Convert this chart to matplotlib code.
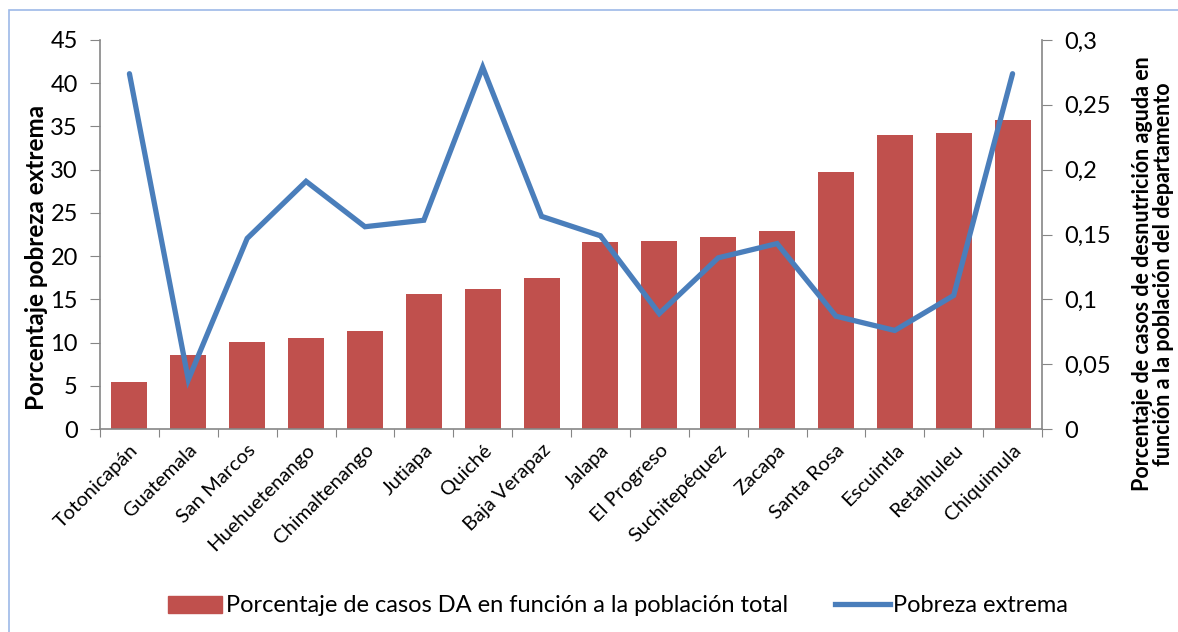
import matplotlib.pyplot as plt
from matplotlib.patches import Rectangle
from matplotlib.lines import Line2D
import numpy as np

plt.rcParams['font.family'] = ['Lato', 'DejaVu Sans']

departamentos = ['Totonicapán', 'Guatemala', 'San Marcos', 'Huehuetenango', 'Chimaltenango',
                 'Jutiapa', 'Quiché', 'Baja Verapaz', 'Jalapa', 'El Progreso', 'Suchitepéquez',
                 'Zacapa', 'Santa Rosa', 'Escuintla', 'Retalhuleu', 'Chiquimula']
casos_da = [5.4, 8.6, 10.1, 10.5, 11.3, 15.6, 16.2, 17.5, 21.6, 21.8, 22.2, 22.9,
            29.7, 34.0, 34.2, 35.8]
pobreza = [0.274, 0.038, 0.147, 0.191, 0.156, 0.161, 0.279, 0.164, 0.149, 0.089,
           0.132, 0.143, 0.087, 0.076, 0.103, 0.274]

fig = plt.figure(figsize=(11.78, 6.32), dpi=100)
ax = fig.add_axes([100/1178, 1-429/632, 942/1178, 389/632])
ax2 = ax.twinx()

x = np.arange(len(departamentos))
ax.bar(x, casos_da, width=0.61, color='#C0504D', zorder=2)
ax2.plot(x, pobreza, color='#4A7EBB', linewidth=3.8, solid_capstyle='round', solid_joinstyle='miter')

ax.set_xlim(-0.5, len(departamentos) - 0.5)
ax.set_ylim(0, 45)
ax.set_yticks(range(0, 46, 5))
ax2.set_ylim(0, 0.3)
ax2.set_yticks([0, 0.05, 0.1, 0.15, 0.2, 0.25, 0.3])
ax2.set_yticklabels(['0', '0,05', '0,1', '0,15', '0,2', '0,25', '0,3'])

# category borders as major ticks, names on minor ticks
ax.set_xticks(np.arange(-0.5, len(departamentos)))
ax.set_xticklabels([])
ax.set_xticks(x, minor=True)
ax.set_xticklabels(departamentos, minor=True, rotation=45, ha='right', rotation_mode='anchor', fontsize=14.5)
ax.tick_params(axis='x', which='major', length=6, color='#868686', direction='out')
ax.tick_params(axis='x', which='minor', length=0, pad=9)
ax.tick_params(axis='y', length=7, color='#868686', labelsize=17, pad=9)
ax2.tick_params(axis='y', length=7, color='#868686', labelsize=17, pad=9)

for a in (ax, ax2):
    a.spines['top'].set_visible(False)
    for s in ('left', 'right', 'bottom'):
        a.spines[s].set_color('#868686')
        a.spines[s].set_linewidth(1.2)
ax.spines['right'].set_visible(False)
ax2.spines['left'].set_visible(False)
ax2.spines['bottom'].set_visible(False)

fig.text(37/1178, 1-257/632, 'Porcentaje pobreza extrema', rotation=90, ha='center', va='center',
         fontsize=17.5, fontweight='bold')
fig.text(1153/1178, 1-274/632, 'Porcentaje de casos de desnutrición aguda en\nfunción a la población del departamento',
         rotation=90, ha='center', va='center', fontsize=15.5, fontweight='bold', linespacing=0.95)

handles = [Rectangle((0, 0), 1, 1, color='#C0504D'),
           Line2D([0], [0], color='#4A7EBB', linewidth=3.8)]
fig.legend(handles, ['Porcentaje de casos DA en función a la población total', 'Pobreza extrema'],
           loc='center', bbox_to_anchor=(618/1178, 1-606/632), ncol=2, frameon=False,
           fontsize=17, handlelength=2.3, handletextpad=0.15, columnspacing=2.0)

fig.patches.append(Rectangle((9/1178, -0.1), 1.2, 1-10/632+0.1, transform=fig.transFigure,
                             fill=False, edgecolor='#9DB9E8', linewidth=1.2))

fig.savefig('out.png', dpi=100)
